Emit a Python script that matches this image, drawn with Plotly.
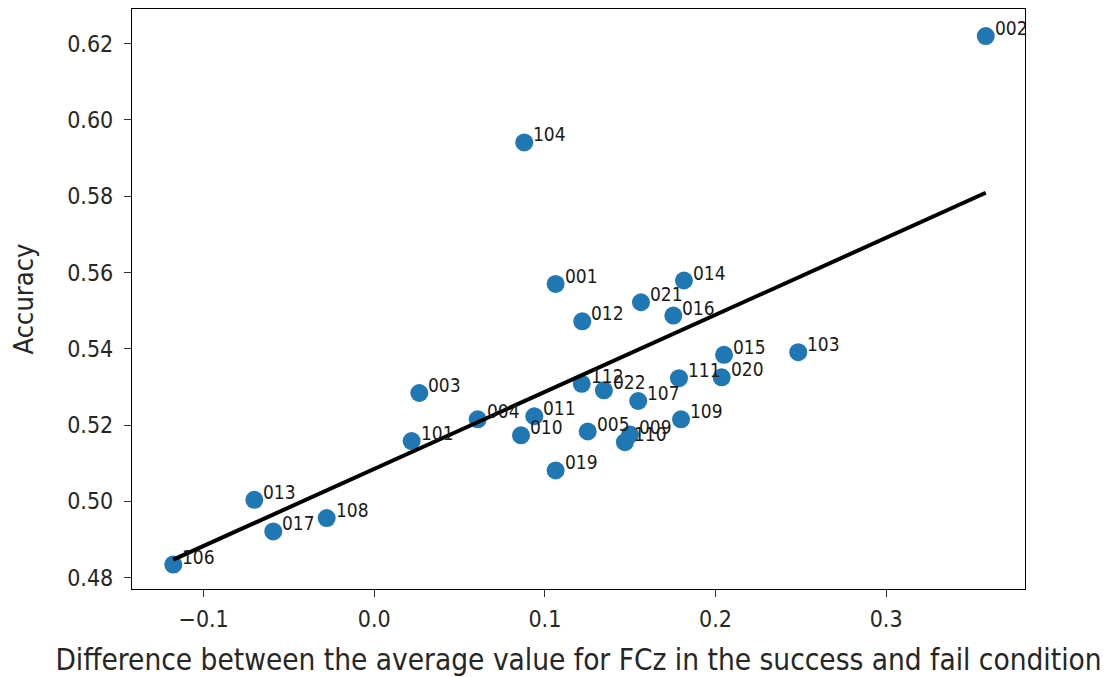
import plotly.graph_objects as go

# ---- data ----
labels = ["001", "002", "003", "004", "005", "009", "010", "011", "012", "013",
          "014", "015", "016", "017", "019", "020", "021", "022", "101", "103",
          "104", "106", "107", "108", "109", "110", "111", "112"]
diff_fcz = [0.1063, 0.3584, 0.0264, 0.0606, 0.1251, 0.1499, 0.0860, 0.0938, 0.1219, -0.0703,
            0.1815, 0.2050, 0.1753, -0.0592, 0.1063, 0.2036, 0.1563, 0.1346, 0.0219, 0.2485,
            0.0879, -0.1178, 0.1547, -0.0279, 0.1798, 0.1469, 0.1786, 0.1216]
accuracy = [0.5570, 0.6220, 0.5284, 0.5215, 0.5183, 0.5175, 0.5173, 0.5223, 0.5472, 0.5004,
            0.5579, 0.5384, 0.5487, 0.4921, 0.5081, 0.5325, 0.5522, 0.5291, 0.5158, 0.5391,
            0.5941, 0.4834, 0.5263, 0.4956, 0.5215, 0.5155, 0.5323, 0.5308]
fit_x = [-0.1178, 0.3584]
fit_y = [0.4847, 0.5809]

x_ticks = [-0.1, 0.0, 0.1, 0.2, 0.3]
x_tick_text = ["\u22120.1", "0.0", "0.1", "0.2", "0.3"]
y_ticks = [0.48, 0.50, 0.52, 0.54, 0.56, 0.58, 0.60, 0.62]
y_tick_text = ["0.48", "0.50", "0.52", "0.54", "0.56", "0.58", "0.60", "0.62"]

FONT = "DejaVu Sans Condensed, DejaVu Sans"
BLUE = "#1f77b4"

fig = go.Figure()
fig.add_trace(go.Scatter(
    x=diff_fcz, y=accuracy, mode="markers",
    marker=dict(color=BLUE, size=18, line=dict(width=0)),
    showlegend=False, hoverinfo="text", text=labels,
))
fig.add_trace(go.Scatter(
    x=fit_x, y=fit_y, mode="lines",
    line=dict(color="black", width=4),
    showlegend=False,
))

for lab, xv, yv in zip(labels, diff_fcz, accuracy):
    fig.add_annotation(
        x=xv, y=yv, text=lab, showarrow=False,
        xanchor="left", yanchor="bottom", xshift=7, yshift=-5,
        font=dict(family=FONT, size=19, color="#1a1a1a"),
    )

axis_common = dict(
    showline=True, linecolor="black", linewidth=1.3, mirror=True,
    ticks="outside", ticklen=7, tickwidth=1.2, tickcolor="#333333",
    showgrid=False, zeroline=False,
    tickfont=dict(family=FONT, size=23, color="#262626"),
)

fig.update_xaxes(
    range=[-0.1420, 0.3814], tickvals=x_ticks, ticktext=x_tick_text,
    title=dict(text="Difference between the average value for FCz in the success and fail condition",
               font=dict(family=FONT, size=29.5, color="#262626"), standoff=18),
    ticklabelstandoff=2,
    **axis_common,
)
fig.update_yaxes(
    range=[0.4770, 0.6291], tickvals=y_ticks, ticktext=y_tick_text,
    title=dict(text="Accuracy", font=dict(family=FONT, size=27, color="#262626"), standoff=30),
    ticklabelstandoff=6,
    **axis_common,
)

fig.update_layout(
    width=1102, height=669,
    margin=dict(l=124, r=85, t=1, b=88, autoexpand=False),
    paper_bgcolor="white", plot_bgcolor="white",
    font=dict(family=FONT),
)

fig.write_html("out.html")
